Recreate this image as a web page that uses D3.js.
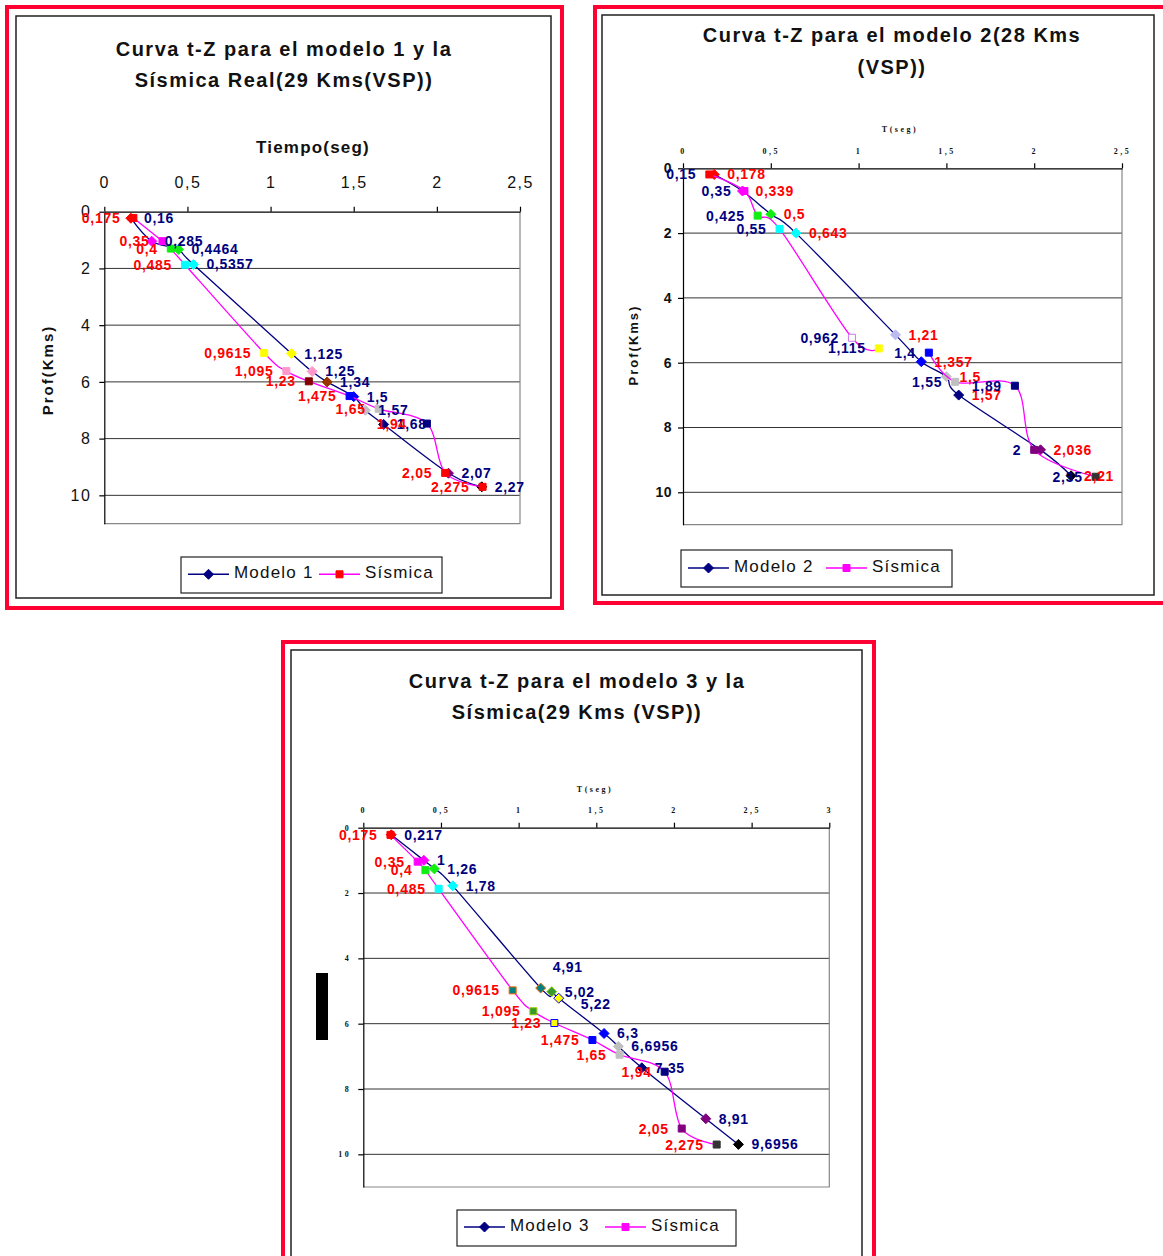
<!DOCTYPE html>
<html>
<head>
<meta charset="utf-8">
<script src="https://cdn.jsdelivr.net/npm/d3@7"></script>
<style>
  body { margin: 0; background: #fff; }
  svg { display: block; }
</style>
</head>
<body>
<svg id="page" width="1163" height="1256"></svg>
<script>
// tick values (Tiempo on top axis, Prof going down)
const tiempoTicks = [0, 0.5, 1, 1.5, 2, 2.5]
const tiempoTicks3 = [0, 0.5, 1, 1.5, 2, 2.5, 3]
const profTicks = [0, 2, 4, 6, 8, 10]

// chart 1 - modelo 1 vs sismica real
const modelo1Time = [0.16, 0.285, 0.4464, 0.5357, 1.125, 1.25, 1.34, 1.5, 1.57, 1.68, 2.07, 2.27]
const modelo1Depth = [0.23, 1.04, 1.33, 1.86, 5.0, 5.63, 6.0, 6.52, 7.0, 7.5, 9.22, 9.7]

// sismica (VSP) - same series in chart 1 and chart 3
const sismicaTime = [0.175, 0.35, 0.4, 0.485, 0.9615, 1.095, 1.23, 1.475, 1.65, 1.94, 2.05, 2.275]
const sismicaDepth = [0.22, 1.04, 1.3, 1.87, 4.98, 5.62, 5.98, 6.5, 6.95, 7.47, 9.21, 9.7]

// chart 2 - modelo 2 (28 kms); null = break in the sismica line
const modelo2Time = [0.178, 0.339, 0.5, 0.643, 1.21, 1.357, 1.5, 1.57, 2.036, 2.21]
const modelo2Depth = [0.19, 0.7, 1.42, 2.0, 5.14, 5.97, 6.43, 7.0, 8.69, 9.49]
const sismica2Time = [0.15, 0.35, 0.425, 0.55, 0.962, 1.115, null, 1.4, 1.55, 1.89, 2, 2.35]
const sismica2Depth = [0.19, 0.7, 1.46, 1.87, 5.23, 5.56, null, 5.69, 6.59, 6.71, 8.69, 9.52]

// chart 3 - modelo 3 (labels are the depths)
const modelo3Time = [0.18, 0.39, 0.457, 0.576, 1.142, 1.213, 1.258, 1.55, 1.642, 1.793, 2.205, 2.415]
const modelo3Depth = [0.217, 1, 1.26, 1.78, 4.91, 5.02, 5.22, 6.3, 6.6956, 7.35, 8.91, 9.6956]

// marker colours (excel per point formatting)
const modelo1Fill = ['#FF0000', '#FF00FF', '#11EE11', '#00FFFF', '#FFFF00', '#FF99CC', '#993300', '#0000FF', '#C0C0C0', '#000080', '#800080', '#000000']
const sismica1Fill = ['#FF0000', '#FF00FF', '#11EE11', '#00FFFF', '#FFFF00', '#FF99CC', '#800000', '#0000FF', '#C0C0C0', '#000080', '#FF0000', '#FF0000']
const modelo2Fill = ['#FF0000', '#FF00FF', '#11EE11', '#00FFFF', '#BBBBEE', '#0000FF', '#C0C0C0', '#000080', '#800080', '#000000']
const sismica2Fill = ['#FF0000', '#FF00FF', '#11EE11', '#00FFFF', '#FFFFFF', '#FFFF00', null, '#0000FF', '#C0C0C0', '#000080', '#800080', '#333333']
const sismica2Stroke = ['#FF0000', '#FF00FF', '#11EE11', '#00FFFF', '#CC77EE', '#FFFF00', null, '#0000FF', '#C0C0C0', '#000080', '#800080', '#333333']
const modelo3Fill = ['#FF0000', '#FF00FF', '#11EE11', '#00FFFF', '#008080', '#339933', '#FFFF00', '#0000FF', '#C0C0C0', '#000080', '#800080', '#000000']
const modelo3Stroke = ['#FF0000', '#FF00FF', '#11EE11', '#00FFFF', '#FF6600', '#99CC00', '#0000FF', '#0000FF', '#C0C0C0', '#000080', '#800080', '#000000']
const sismica3Fill = ['#FF0000', '#FF00FF', '#11EE11', '#00FFFF', '#008080', '#339933', '#FFFF00', '#0000FF', '#C0C0C0', '#000080', '#800080', '#333333']
const sismica3Stroke = ['#FF0000', '#FF00FF', '#11EE11', '#00FFFF', '#FF6600', '#99CC00', '#0000FF', '#0000FF', '#C0C0C0', '#000080', '#800080', '#333333']

const NAVY = '#000080', MAG = '#FF00FF', RED = '#FF0000'
const SANS = '"Liberation Sans", Arial, sans-serif'
const SERIF = '"Liberation Serif", "Times New Roman", serif'

const svg = d3.select('#page')
svg.append('rect').attr('width', 1163).attr('height', 1256).attr('fill', '#fff')

function fmt(v) {
    return String(v).replace('.', ',')
}

const DIAMOND = 'M0,-5L5,0L0,5L-5,0Z'
const SQUARE = 'M-3.5,-3.5h7v7h-7Z'

function drawSeries(g, x, y, s) {
    let pts = s.time.map((t, i) => ({t: t, z: s.depth[i], i: i}))
    let line = d3.line()
        .defined(p => p.t != null)
        .x(p => x(p.t)).y(p => y(p.z))
        .curve(d3.curveCatmullRom.alpha(0))
    g.append('path').datum(pts).attr('d', line)
        .attr('fill', 'none').attr('stroke', s.color).attr('stroke-width', 1.3)
    let valid = pts.filter(p => p.t != null)
    g.append('g').selectAll('path').data(valid).join('path')
        .attr('transform', p => `translate(${x(p.t)},${y(p.z)})`)
        .attr('d', s.shape === 'diamond' ? DIAMOND : SQUARE)
        .attr('fill', p => s.fill[p.i])
        .attr('stroke', p => (s.stroke || s.fill)[p.i])
        .attr('stroke-width', 1)
    return valid
}

function drawLabels(g, x, y, pts, s) {
    g.append('g').selectAll('text').data(pts).join('text')
        .attr('x', p => {
            let n = (s.nudge && s.nudge[p.i]) || [0, 0]
            return x(p.t) + (s.side === 'right' ? 13 : -13) + n[0]
        })
        .attr('y', p => {
            let n = (s.nudge && s.nudge[p.i]) || [0, 0]
            return y(p.z) + 5 + n[1]
        })
        .attr('text-anchor', s.side === 'right' ? 'start' : 'end')
        .attr('font-family', SANS).attr('font-weight', 'bold').attr('font-size', 14)
        .attr('letter-spacing', 0.7)
        .attr('fill', s.labelColor)
        .text(p => fmt(s.labels[p.i]))
}

function drawLegend(g, lg) {
    g.append('rect').attr('x', lg.box[0]).attr('y', lg.box[1]).attr('width', lg.box[2]).attr('height', lg.box[3])
        .attr('fill', '#fff').attr('stroke', '#222').attr('stroke-width', 1.2)
    lg.items.forEach(it => {
        g.append('line').attr('x1', it.x).attr('x2', it.x + 41).attr('y1', lg.cy).attr('y2', lg.cy)
            .attr('stroke', it.color).attr('stroke-width', 1.5)
        g.append('path').attr('transform', `translate(${it.x + 20.5},${lg.cy})`)
            .attr('d', it.shape === 'diamond' ? DIAMOND : SQUARE)
            .attr('fill', it.mark).attr('stroke', it.mark)
        g.append('text').attr('x', it.x + 46).attr('y', lg.cy + 3.5)
            .attr('font-family', SANS).attr('font-size', 17).attr('letter-spacing', 1.2)
            .attr('fill', '#111').text(it.text)
    })
}

function drawChart(c) {
    let g = svg.append('g')
    g.append('rect').attr('x', c.red[0]).attr('y', c.red[1]).attr('width', c.red[2]).attr('height', c.red[3])
        .attr('fill', 'none').attr('stroke', '#FF0033').attr('stroke-width', 4)
    g.append('rect').attr('x', c.black[0]).attr('y', c.black[1]).attr('width', c.black[2]).attr('height', c.black[3])
        .attr('fill', '#fff').attr('stroke', '#222').attr('stroke-width', 1.5)

    let x = d3.scaleLinear().domain([0, c.xTicks[c.xTicks.length - 1]]).range([c.plot[0], c.plot[2]])
    let y = d3.scaleLinear().domain([0, 11]).range([c.plot[1], c.plot[3]])

    // title
    c.title.forEach((t, i) => {
        g.append('text').attr('x', c.titleX).attr('y', c.titleY + i * 31.5)
            .attr('text-anchor', 'middle').attr('font-family', SANS).attr('font-weight', 'bold')
            .attr('font-size', 20).attr('letter-spacing', 1.5).attr('fill', '#111').text(t)
    })

    // gridlines and plot border
    g.append('g').selectAll('line').data(profTicks.filter(d => d > 0)).join('line')
        .attr('x1', c.plot[0]).attr('x2', c.plot[2])
        .attr('y1', d => y(d)).attr('y2', d => y(d))
        .attr('stroke', '#333').attr('stroke-width', 1)
    g.append('path').attr('d', `M${c.plot[2]},${c.plot[1]}V${c.plot[3]}H${c.plot[0]}`)
        .attr('fill', 'none').attr('stroke', '#888').attr('stroke-width', 1.2)

    // axes
    let ax = g.append('g').attr('transform', `translate(0,${c.plot[1]})`)
        .call(d3.axisTop(x).tickValues(c.xTicks).tickSize(5).tickSizeOuter(0).tickPadding(c.xPad).tickFormat(fmt))
    ax.attr('font-family', c.xFont.family).attr('font-size', c.xFont.size)
        .attr('font-weight', c.xFont.weight).attr('letter-spacing', c.xFont.ls)
    ax.selectAll('line, path').attr('stroke', '#000').attr('stroke-width', 1.2)
    ax.selectAll('text').attr('fill', '#111')

    let ay = g.append('g').attr('transform', `translate(${c.plot[0]},0)`)
        .call(d3.axisLeft(y).tickValues(profTicks).tickSize(5).tickSizeOuter(0).tickPadding(c.yPad).tickFormat(fmt))
    ay.attr('font-family', c.yFont.family).attr('font-size', c.yFont.size)
        .attr('font-weight', c.yFont.weight).attr('letter-spacing', c.yFont.ls)
    ay.selectAll('line, path').attr('stroke', '#000').attr('stroke-width', 1.2)
    ay.selectAll('text').attr('fill', '#111')

    // axis titles
    if (c.xTitle) {
        g.append('text').attr('x', c.xTitle.x).attr('y', c.xTitle.y).attr('text-anchor', 'middle')
            .attr('font-family', c.xTitle.family).attr('font-weight', 'bold')
            .attr('font-size', c.xTitle.size).attr('letter-spacing', c.xTitle.ls)
            .attr('fill', '#111').text(c.xTitle.text)
    }
    if (c.yTitle) {
        g.append('text').attr('transform', `translate(${c.yTitle.x},${c.yTitle.y}) rotate(-90)`)
            .attr('text-anchor', 'middle').attr('dominant-baseline', 'central')
            .attr('font-family', SANS).attr('font-weight', 'bold')
            .attr('font-size', c.yTitle.size).attr('letter-spacing', c.yTitle.ls)
            .attr('fill', '#111').text(c.yTitle.text)
    }
    if (c.blackBox) {
        g.append('rect').attr('x', c.blackBox[0]).attr('y', c.blackBox[1])
            .attr('width', c.blackBox[2]).attr('height', c.blackBox[3]).attr('fill', '#000')
    }

    // series
    let placed = c.series.map(s => ({s: s, pts: drawSeries(g, x, y, s)}))
    placed.forEach(p => drawLabels(g, x, y, p.pts, p.s))

    drawLegend(g, c.legend)
}

const bigTickFont = {family: SANS, size: 16, weight: 'normal', ls: 1.5}
const tinyTickFont = {family: SERIF, size: 8, weight: 'bold', ls: 2.5}

drawChart({
    red: [7, 7, 555, 601],
    black: [16, 16, 535, 582],
    plot: [104.3, 211.7, 520, 523.7],
    xTicks: tiempoTicks,
    title: ['Curva t-Z para el modelo 1 y la', 'Sísmica Real(29 Kms(VSP))'],
    titleX: 284, titleY: 55.5,
    xPad: 19, xFont: bigTickFont,
    yPad: 8, yFont: bigTickFont,
    xTitle: {text: 'Tiempo(seg)', x: 313, y: 152.5, size: 17, ls: 1.2, family: SANS},
    yTitle: {text: 'Prof(Kms)', x: 47, y: 370, size: 15, ls: 2},
    series: [
        {time: modelo1Time, depth: modelo1Depth, labels: modelo1Time, color: NAVY, shape: 'diamond',
            fill: modelo1Fill, side: 'right', labelColor: NAVY},
        {time: sismicaTime, depth: sismicaDepth, labels: sismicaTime, color: MAG, shape: 'square',
            fill: sismica1Fill, side: 'left', labelColor: RED, nudge: {9: [-7, 0]}}
    ],
    legend: {
        box: [181, 557, 261, 36], cy: 574.3,
        items: [
            {x: 188, color: NAVY, mark: NAVY, shape: 'diamond', text: 'Modelo 1'},
            {x: 319, color: MAG, mark: RED, shape: 'square', text: 'Sísmica'}
        ]
    }
})

drawChart({
    red: [595, 7, 600, 596],
    black: [602, 15, 552, 580],
    plot: [683, 168.3, 1122, 524.7],
    xTicks: tiempoTicks,
    title: ['Curva t-Z para el modelo 2(28 Kms', '(VSP))'],
    titleX: 892, titleY: 42,
    xPad: 9, xFont: tinyTickFont,
    yPad: 6, yFont: {family: SANS, size: 14, weight: 'bold', ls: 0.5},
    xTitle: {text: 'T(seg)', x: 900, y: 131.5, size: 8, ls: 2.5, family: SERIF},
    yTitle: {text: 'Prof(Kms)', x: 633, y: 345, size: 13, ls: 2},
    series: [
        {time: modelo2Time, depth: modelo2Depth, labels: modelo2Time, color: NAVY, shape: 'diamond',
            fill: modelo2Fill, side: 'right', labelColor: RED},
        {time: sismica2Time, depth: sismica2Depth, labels: sismica2Time, color: MAG, shape: 'square',
            fill: sismica2Fill, stroke: sismica2Stroke, side: 'left', labelColor: NAVY}
    ],
    legend: {
        box: [681, 550, 271, 37], cy: 568,
        items: [
            {x: 688, color: NAVY, mark: NAVY, shape: 'diamond', text: 'Modelo 2'},
            {x: 826, color: MAG, mark: MAG, shape: 'square', text: 'Sísmica'}
        ]
    }
})

drawChart({
    red: [283, 642, 591, 700],
    black: [291, 650, 571, 700],
    plot: [363.3, 827.7, 829.3, 1187],
    xTicks: tiempoTicks3,
    title: ['Curva t-Z para el modelo 3 y la', 'Sísmica(29 Kms (VSP))'],
    titleX: 577, titleY: 687.5,
    xPad: 10, xFont: tinyTickFont,
    yPad: 7, yFont: tinyTickFont,
    xTitle: {text: 'T(seg)', x: 595, y: 791.5, size: 8, ls: 2.5, family: SERIF},
    blackBox: [316, 973, 12, 67],
    series: [
        {time: modelo3Time, depth: modelo3Depth, labels: modelo3Depth, color: NAVY, shape: 'diamond',
            fill: modelo3Fill, stroke: modelo3Stroke, side: 'right', labelColor: NAVY,
            nudge: {4: [-1, -21], 6: [9, 6]}},
        {time: sismicaTime, depth: sismicaDepth, labels: sismicaTime, color: MAG, shape: 'square',
            fill: sismica3Fill, stroke: sismica3Stroke, side: 'left', labelColor: RED}
    ],
    legend: {
        box: [457, 1210, 279, 36], cy: 1227,
        items: [
            {x: 464, color: NAVY, mark: NAVY, shape: 'diamond', text: 'Modelo 3'},
            {x: 605, color: MAG, mark: MAG, shape: 'square', text: 'Sísmica'}
        ]
    }
})
</script>
</body>
</html>
